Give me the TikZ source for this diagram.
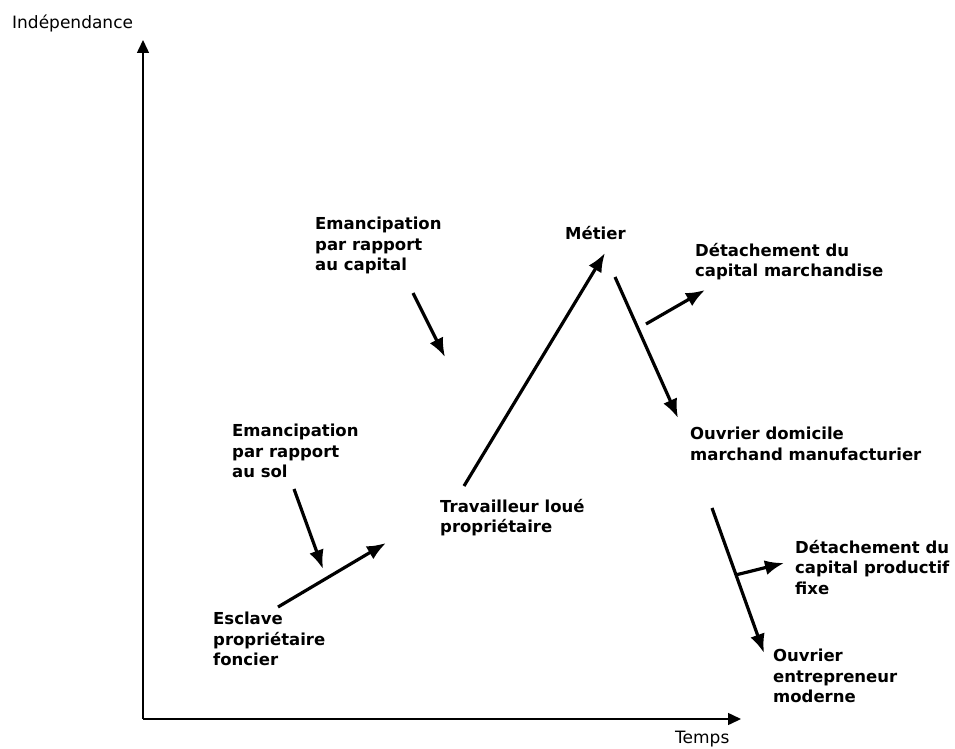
\documentclass[tikz,border=0pt]{standalone}
\usepackage{fontspec}
\setmainfont{DejaVu Sans}
\usetikzlibrary{arrows.meta}
\tikzset{
  lbl/.style={anchor=north west, inner sep=0pt, align=left,
    font=\fontsize{16.5}{20.5}\selectfont\bfseries},
  axlbl/.style={anchor=north west, inner sep=0pt,
    font=\fontsize{17}{20}\selectfont},
  axis/.style={line width=1.5pt, -{Triangle[length=13pt,width=12pt]}},
  bigarrow/.style={line width=3.2pt, -{Latex[length=19pt,width=15pt]}},
}
\begin{document}
\begin{tikzpicture}[x=1pt,y=-1pt]
\useasboundingbox (0,0) rectangle (955,749);
% axes
\coordinate (O) at (143,719);
\coordinate (ytip) at (143,40);
\coordinate (xtip) at (741,719);
\draw[axis] (O) -- (ytip);
\draw[axis] (O) -- (xtip);
\node[axlbl] (ind) at (12,15) {Indépendance};
\node[axlbl] (temps) at (675,731) {Temps};
% labels
\node[lbl] (emcap) at (315,217) {Emancipation\\par rapport\\au capital};
\node[lbl] (emsol) at (232,424) {Emancipation\\par rapport\\au sol};
\node[lbl] (escl) at (213,612) {Esclave\\propriétaire\\foncier};
\node[lbl] (trav) at (440,499) {Travailleur loué\\propriétaire};
\node[lbl] (met) at (565,226) {Métier};
\node[lbl] (detm) at (695,243) {Détachement du\\capital marchandise};
\node[lbl] (ouvd) at (690,427) {Ouvrier domicile\\marchand manufacturier};
\node[lbl] (detp) at (795,540) {Détachement du\\capital productif\\fixe};
\node[lbl] (ouve) at (773,649) {Ouvrier\\entrepreneur\\moderne};
% arrow end points
\coordinate (a1s) at (278,607); \coordinate (a1e) at (386,543);
\coordinate (a2s) at (294,489); \coordinate (a2e) at (323,569);
\coordinate (a3s) at (413,293); \coordinate (a3e) at (445,357);
\coordinate (a4s) at (464,486); \coordinate (a4e) at (605,253);
\coordinate (a5s) at (615,277); \coordinate (a5e) at (678,418);
\coordinate (a6s) at (646,324); \coordinate (a6e) at (705,290);
\coordinate (a7s) at (712,508); \coordinate (a7e) at (764,653);
\coordinate (a8s) at (735.5,575); \coordinate (a8e) at (784,563);
\draw[bigarrow] (a1s) -- (a1e);
\draw[bigarrow] (a2s) -- (a2e);
\draw[bigarrow] (a3s) -- (a3e);
\draw[bigarrow] (a4s) -- (a4e);
\draw[bigarrow] (a5s) -- (a5e);
\draw[bigarrow] (a6s) -- (a6e);
\draw[bigarrow] (a7s) -- (a7e);
\draw[bigarrow] (a8s) -- (a8e);
\end{tikzpicture}
\end{document}
